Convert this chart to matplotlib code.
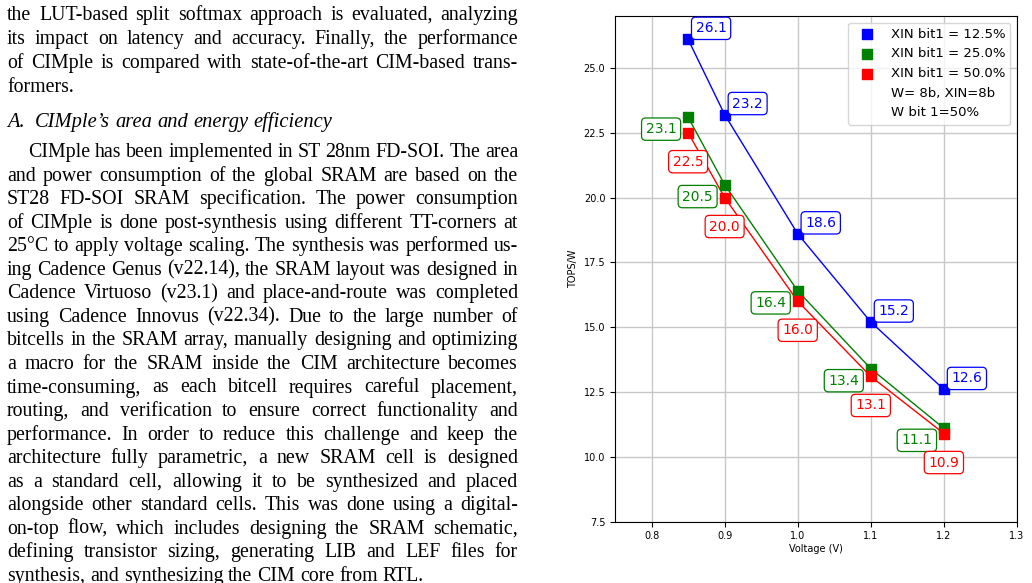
import matplotlib
matplotlib.use('Agg')
import matplotlib.pyplot as plt
from matplotlib.lines import Line2D

# Chart data
voltage = [0.85, 0.9, 1.0, 1.1, 1.2]
tops_125 = [26.1, 23.2, 18.6, 15.2, 12.6]
tops_250 = [23.1, 20.5, 16.4, 13.4, 11.1]
tops_500 = [22.5, 20.0, 16.0, 13.1, 10.9]
series_labels = ['XIN bit1 = 12.5%', 'XIN bit1 = 25.0%', 'XIN bit1 = 50.0%']
extra_labels = ['W= 8b, XIN=8b', 'W bit 1=50%']
x_ticks = [0.8, 0.9, 1.0, 1.1, 1.2, 1.3]
y_ticks = [7.5, 10.0, 12.5, 15.0, 17.5, 20.0, 22.5, 25.0]

# Page text to the left of the chart
intro_lines = [
    'the LUT-based split softmax approach is evaluated, analyzing',
    'its impact on latency and accuracy. Finally, the performance',
    'of CIMple is compared with state-of-the-art CIM-based trans-',
    'formers.',
]
heading = 'CIMple\u2019s area and energy efficiency'
body_lines = [
    'CIMple has been implemented in ST 28nm FD-SOI. The area',
    'and power consumption of the global SRAM are based on the',
    'ST28 FD-SOI SRAM specification. The power consumption',
    'of CIMple is done post-synthesis using different TT-corners at',
    '25\u00b0C to apply voltage scaling. The synthesis was performed us-',
    'ing Cadence Genus (v22.14), the SRAM layout was designed in',
    'Cadence Virtuoso (v23.1) and place-and-route was completed',
    'using Cadence Innovus (v22.34). Due to the large number of',
    'bitcells in the SRAM array, manually designing and optimizing',
    'a macro for the SRAM inside the CIM architecture becomes',
    'time-consuming, as each bitcell requires careful placement,',
    'routing, and verification to ensure correct functionality and',
    'performance. In order to reduce this challenge and keep the',
    'architecture fully parametric, a new SRAM cell is designed',
    'as a standard cell, allowing it to be synthesized and placed',
    'alongside other standard cells. This was done using a digital-',
    'on-top flow, which includes designing the SRAM schematic,',
    'defining transistor sizing, generating LIB and LEF files for',
    'synthesis, and synthesizing the CIM core from RTL.',
]

W, H = 1032, 583
fig = plt.figure(figsize=(W / 100, H / 100), dpi=100)
renderer = fig.canvas.get_renderer()

serif = 'Liberation Serif'
fsize = 14.3


def put_line(line, x0, x1, y, justify=True, style='normal', size=fsize):
    # place words one by one so the line fills the column width
    words = line.split(' ')
    texts = [fig.text(0, 0, w, family=serif, fontsize=size, style=style,
                      va='baseline', ha='left') for w in words]
    widths = [t.get_window_extent(renderer).width for t in texts]
    if justify and len(words) > 1:
        gap = (x1 - x0 - sum(widths)) / (len(words) - 1)
    else:
        gap = size * 100 / 72 * 0.25
    x = x0
    for t, w in zip(texts, widths):
        t.set_position((x / W, 1 - y / H))
        x += w + gap


left, right = 7, 518
for i, line in enumerate(intro_lines):
    put_line(line, left, right, 20 + 24 * i, justify=(i < len(intro_lines) - 1))

fig.text(left / W, 1 - 127 / H, 'A.', family=serif, fontsize=14.8,
         style='italic', va='baseline')
put_line(heading, 35, right, 127, justify=False, style='italic', size=14.8)

for i, line in enumerate(body_lines):
    x0 = 28 if i == 0 else left
    put_line(line, x0, right, 157 + 23.55 * i, justify=(i < len(body_lines) - 1))

# Chart
ax = fig.add_axes([615 / W, 1 - 521.7 / H, (1017 - 615) / W, (521.7 - 16) / H])
colors = ['blue', 'green', 'red']
all_series = [tops_125, tops_250, tops_500]
offsets = [(23, 11), (-27, -12), (0, -29)]

for vals, c, lab in zip(all_series, colors, series_labels):
    ax.plot(voltage, vals, color=c, lw=1, zorder=2)
    ax.scatter(voltage, vals, marker='s', s=62, color=c, label=lab, zorder=3)

for vals, c, off in zip(all_series, colors, offsets):
    for xv, yv in zip(voltage, vals):
        ax.annotate(f'{yv:.1f}', (xv, yv), xytext=off, textcoords='offset pixels',
                    ha='center', va='center', fontsize=10, color=c, zorder=4,
                    bbox=dict(boxstyle='round,pad=0.3', fc='white', ec=c, lw=0.9))

ax.set_xlim(0.75, 1.3)
ax.set_ylim(7.5, 27)
ax.set_xticks(x_ticks)
ax.set_yticks(y_ticks)
ax.tick_params(labelsize=7)
ax.set_xlabel('Voltage (V)', fontsize=7, labelpad=2)
ax.set_ylabel('TOPS/W', fontsize=7)
ax.grid(True, color='#c8c8c8', lw=1)
ax.set_axisbelow(True)

handles, labels = ax.get_legend_handles_labels()
for lab in extra_labels:
    handles.append(Line2D([], [], linestyle='none', marker=None))
    labels.append(lab)
ax.legend(handles, labels, loc='upper right', fontsize=9.5, scatterpoints=1)

fig.savefig('out.png', dpi=100)
